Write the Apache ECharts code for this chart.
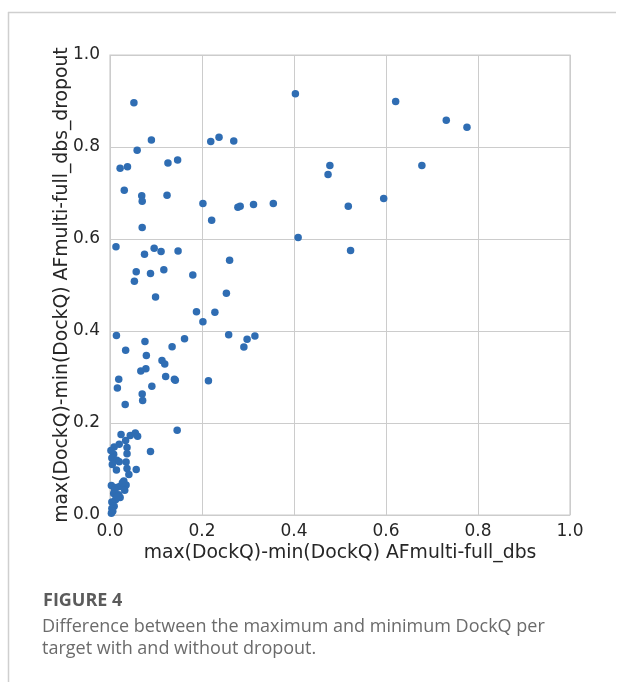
<!DOCTYPE html>
<html>
<head>
<meta charset="utf-8">
<script src="https://cdn.jsdelivr.net/npm/echarts@6/dist/echarts.min.js"></script>
<style>
  html, body { margin: 0; padding: 0; background: #ffffff; }
  #chart { width: 617px; height: 682px; }
</style>
</head>
<body>
<div id="chart"></div>
<script>
// Per-target spread of DockQ (max - min): without dropout (x) vs with dropout (y)
const xDiff = [
  0.052, 0.090, 0.059, 0.219, 0.237, 0.269, 0.403, 0.022, 0.038, 0.126,
  0.147, 0.031, 0.069, 0.070, 0.124, 0.202, 0.221, 0.278, 0.283, 0.312,
  0.355, 0.070, 0.409, 0.621, 0.731, 0.776, 0.478, 0.474, 0.678, 0.595,
  0.518, 0.523, 0.013, 0.075, 0.096, 0.111, 0.148, 0.260, 0.057, 0.088,
  0.117, 0.180, 0.053, 0.099, 0.253, 0.188, 0.228, 0.202, 0.014, 0.076,
  0.162, 0.258, 0.298, 0.315, 0.291, 0.135, 0.034, 0.079, 0.113, 0.119,
  0.067, 0.078, 0.121, 0.140, 0.142, 0.019, 0.016, 0.091, 0.214, 0.070,
  0.071, 0.033, 0.146, 0.024, 0.044, 0.055, 0.060, 0.034, 0.020, 0.009,
  0.088, 0.037, 0.037, 0.008, 0.004, 0.015, 0.020, 0.035, 0.037, 0.014,
  0.057, 0.041, 0.030, 0.035, 0.003, 0.014, 0.021, 0.032, 0.008, 0.019,
  0.022, 0.012, 0.004, 0.009, 0.004, 0.006, 0.002, 0.005, 0.010, 0.016,
  0.003, 0.027
];
const yDiff = [
  0.896, 0.815, 0.793, 0.812, 0.821, 0.813, 0.916, 0.754, 0.757, 0.765,
  0.772, 0.706, 0.694, 0.682, 0.695, 0.677, 0.641, 0.669, 0.671, 0.675,
  0.677, 0.625, 0.603, 0.899, 0.858, 0.843, 0.760, 0.740, 0.760, 0.688,
  0.671, 0.575, 0.583, 0.567, 0.580, 0.573, 0.574, 0.554, 0.529, 0.525,
  0.533, 0.522, 0.508, 0.474, 0.482, 0.442, 0.441, 0.420, 0.390, 0.377,
  0.383, 0.392, 0.382, 0.389, 0.365, 0.366, 0.358, 0.347, 0.336, 0.328,
  0.313, 0.318, 0.301, 0.295, 0.293, 0.295, 0.276, 0.280, 0.292, 0.263,
  0.249, 0.240, 0.184, 0.175, 0.173, 0.178, 0.171, 0.162, 0.154, 0.148,
  0.138, 0.147, 0.133, 0.132, 0.124, 0.119, 0.116, 0.115, 0.101, 0.098,
  0.099, 0.088, 0.074, 0.065, 0.064, 0.060, 0.062, 0.054, 0.047, 0.044,
  0.038, 0.033, 0.028, 0.019, 0.014, 0.008, 0.140, 0.110, 0.055, 0.040,
  0.004, 0.070
];
const tickValues = [0.0, 0.2, 0.4, 0.6, 0.8, 1.0];
const xTitle = 'max(DockQ)-min(DockQ) AFmulti-full_dbs';
const yTitle = 'max(DockQ)-min(DockQ) AFmulti-full_dbs_dropout';
const figureLabel = 'FIGURE 4';
const captionLines = [
  'Difference between the maximum and minimum DockQ per',
  'target with and without dropout.'
];

const points = xDiff.map((x, i) => [x, yDiff[i]]);

const chart = echarts.init(document.getElementById('chart'), null, { renderer: 'canvas' });

const axisCommon = {
  type: 'value',
  min: tickValues[0],
  max: tickValues[tickValues.length - 1],
  interval: 0.2,
  axisLine: { show: false },
  axisTick: { show: false },
  splitLine: { show: true, lineStyle: { color: '#cccccc', width: 1 } },
  axisLabel: {
    color: '#262626',
    fontFamily: 'DejaVu Sans',
    fontSize: 17,
    formatter: v => v.toFixed(1)
  },
  nameLocation: 'middle',
  nameMoveOverlap: false,
  nameTextStyle: { color: '#262626', fontFamily: 'DejaVu Sans', fontSize: 18.8 }
};

chart.setOption({
  animation: false,
  backgroundColor: '#ffffff',
  grid: {
    left: 110, top: 55, width: 460, height: 460,
    show: true, borderColor: '#cccccc', borderWidth: 1.2, backgroundColor: 'transparent'
  },
  xAxis: Object.assign({}, axisCommon, {
    name: xTitle,
    nameGap: 29,
    axisLabel: Object.assign({}, axisCommon.axisLabel, { margin: 8 })
  }),
  yAxis: Object.assign({}, axisCommon, {
    name: yTitle,
    nameGap: 38,
    axisLabel: Object.assign({}, axisCommon.axisLabel, { margin: 10 })
  }),
  series: [{
    type: 'scatter',
    data: points,
    symbolSize: 7.5,
    itemStyle: { color: '#2f6db3', opacity: 1 }
  }],
  graphic: [
    { type: 'line', shape: { x1: 8, y1: 12.5, x2: 616, y2: 12.5 }, style: { stroke: '#cfcfcf', lineWidth: 1.5 } },
    { type: 'line', shape: { x1: 8.5, y1: 12, x2: 8.5, y2: 682 }, style: { stroke: '#cfcfcf', lineWidth: 1.5 } },
    {
      type: 'text',
      style: { x: 43, y: 601, text: figureLabel, fill: '#5b5b5b', font: 'bold 18px "Open Sans"', verticalAlign: 'middle' }
    },
    {
      type: 'text',
      style: { x: 42, y: 627, text: captionLines[0], fill: '#6b6b6b', font: '18px "Open Sans"', verticalAlign: 'middle' }
    },
    {
      type: 'text',
      style: { x: 42, y: 649, text: captionLines[1], fill: '#6b6b6b', font: '18px "Open Sans"', verticalAlign: 'middle' }
    }
  ]
});
</script>
</body>
</html>
